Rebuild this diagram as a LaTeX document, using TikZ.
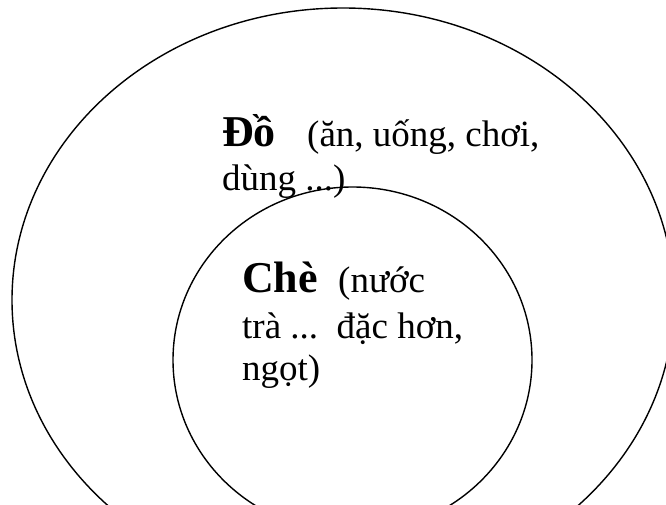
\documentclass[tikz,border=0pt]{standalone}
\usepackage{fontspec}
\setmainfont{Liberation Serif}
\begin{document}
\begin{tikzpicture}[x=1pt,y=-1pt,
  ring/.style={draw=black,line width=1.4pt},
  reg/.style={inner sep=0pt,anchor=base west,font=\fontsize{37}{43}\selectfont},
  big/.style={inner sep=0pt,anchor=base west,font=\fontsize{44}{50}\selectfont\bfseries}]
\useasboundingbox (0,0) rectangle (666,505);
\fill[white] (0,0) rectangle (666,505);
\clip (0,0) rectangle (666,505);
\draw[ring] (343,300) ellipse [x radius=331pt, y radius=292pt];
\draw[ring] (352.5,360) ellipse [x radius=179.5pt, y radius=173pt];
\node[big] (do) at (222,147) {Đồ};
\node[reg] (dodesc) at (307,147) {(ăn, uống, chơi,};
\node[reg] (dodesc2) at (222,190) {dùng ...)};
\node[big] (che) at (242,292) {Chè};
\node[reg] (chedesc) at (338,292) {(nước};
\node[reg] (chedesc2) at (242,338) {trà ...\ \ đặc hơn,};
\node[reg] (chedesc3) at (242,380) {ngọt)};
\end{tikzpicture}
\end{document}
